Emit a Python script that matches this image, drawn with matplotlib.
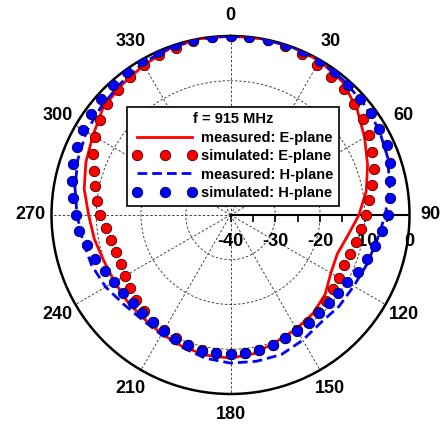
import numpy as np
import matplotlib
matplotlib.use('Agg')
import matplotlib.pyplot as plt

plt.rcParams['font.family'] = ['Liberation Sans', 'DejaVu Sans']
plt.rcParams['font.weight'] = 'bold'

# simulated patterns, every 6 degrees (dB)
sim_angles = list(range(0, 360, 6))
sim_e = [0, 0, -0.1, -0.3, -0.5, -1.3, -1.9, -2.1, -2.9, -3.5,
         -4.3, -5.3, -6.4, -7.7, -8.8, -9.8, -10.6, -11.3, -12.0, -12.3,
         -12.0, -11.7, -11.3, -10.8, -10.4, -10.2, -9.8, -9.5, -9.2, -8.9,
         -8.9, -8.9, -9.1, -9.5, -9.8, -10.2, -10.5, -11.0, -11.5, -12.2,
         -12.7, -13.1, -13.1, -12.6, -12.0, -10.8, -9.9, -9.0, -7.9, -6.3,
         -5.0, -4.0, -2.9, -2.5, -1.8, -1.2, -0.9, -0.7, -0.2, 0]
sim_h = [0, -0.1, 0, 0, 0, -0.2, -0.4, -0.8, -1.1, -1.3,
         -1.7, -1.8, -2.5, -3.5, -4.2, -4.9, -6.0, -7.0, -8.0, -8.9,
         -9.9, -10.3, -10.5, -10.6, -10.3, -10.1, -9.8, -9.4, -9.1, -8.9,
         -8.9, -8.9, -9.0, -9.4, -9.7, -10.1, -10.4, -10.6, -10.6, -10.4,
         -9.9, -9.2, -8.1, -7.3, -6.0, -5.4, -4.5, -3.7, -3.0, -2.5,
         -1.9, -1.6, -1.1, -0.9, -0.6, -0.3, -0.2, -0.1, 0, 0]

# measured patterns, every 10 degrees (dB)
meas_angles = list(range(0, 360, 10))
meas_e = [0, 0, 0, -0.2, -1.1, -3.1, -5.4, -7.4, -9.2, -11.3,
          -13.4, -14.6, -14.1, -12.4, -11.3, -10.6, -9.9, -8.6, -8.0, -8.2,
          -8.7, -9.3, -9.8, -9.9, -10.1, -9.9, -9.1, -8.3, -6.8, -5.6,
          -4.5, -2.8, -2.1, -1.3, -0.4, 0]
meas_h = [0, 0, 0, -0.2, -0.7, -1.2, -1.7, -2.6, -3.9, -5.4,
          -6.8, -7.6, -8.2, -8.3, -8.6, -7.7, -6.8, -6.8, -6.9, -7.5,
          -8.5, -9.1, -9.4, -8.9, -7.8, -7.0, -6.5, -5.7, -4.7, -3.7,
          -2.8, -2.3, -1.7, -0.8, -0.2, 0]

angle_labels = ['0', '30', '60', '90', '120', '150', '180', '210', '240', '270', '300', '330']
r_ticks = [-40, -30, -20, -10, 0]


def closed(angles, values):
    th = np.radians(list(angles) + [angles[0]])
    return th, list(values) + [values[0]]


def main():
    fig = plt.figure(figsize=(4.42, 4.29), dpi=100)
    ax = fig.add_axes([0.1165, 0.0816, 0.81, 0.8345], projection='polar')
    ax.set_theta_zero_location('N')
    ax.set_theta_direction(-1)
    ax.set_ylim(-40, 0)

    # grid
    ax.set_yticks([-30, -20, -10, 0])
    ax.set_yticklabels([])
    ax.set_thetagrids(np.arange(0, 360, 30), angle_labels, fontsize=13, fontweight='bold')
    ax.set_xticks(np.radians(np.arange(15, 360, 30)), minor=True)
    ax.grid(True, color='#444444', linestyle=(0, (2.5, 2)), linewidth=0.7)
    ax.tick_params(axis='x', which='both', direction='in', length=7, width=1.5, pad=8)
    ax.spines['polar'].set_linewidth(1.8)

    # radial axis along 90 degrees
    ax.plot([np.pi / 2, np.pi / 2], [-40, 0], color='k', lw=1.5, zorder=3)
    ax.plot([np.pi / 2] * 9, np.arange(-40, 1, 5), ls='none', marker=3,
            ms=5, mew=1.2, color='k', zorder=3)
    for r in r_ticks:
        ax.annotate(str(r), xy=(np.pi / 2, r), xytext=(0, -19), textcoords='offset points',
                    ha='center', va='center', fontsize=13, fontweight='bold')

    th, v = closed(meas_angles, meas_e)
    ax.plot(th, v, color='red', lw=2, label='measured: E-plane', zorder=4)
    ax.plot(np.radians(sim_angles), sim_e, ls='none', marker='o', ms=7.5, mfc='red',
            mec='#400000', mew=0.6, label='simulated: E-plane', zorder=5)
    th, v = closed(meas_angles, meas_h)
    ax.plot(th, v, color='blue', lw=2, ls=(0, (3.5, 1.8)), label='measured: H-plane', zorder=4)
    ax.plot(np.radians(sim_angles), sim_h, ls='none', marker='o', ms=7.5, mfc='blue',
            mec='#000040', mew=0.6, label='simulated: H-plane', zorder=6)

    leg = ax.legend(loc='center', bbox_to_anchor=(0.527, 0.636), bbox_transform=fig.transFigure,
                    numpoints=3, handlelength=4.4, fancybox=False, framealpha=1, edgecolor='k',
                    title='f = 915 MHz', prop={'size': 10.5, 'weight': 'bold'},
                    title_fontproperties={'size': 10.5, 'weight': 'bold'},
                    borderpad=0.4, labelspacing=0.3, handletextpad=0.3, borderaxespad=0)
    leg.get_frame().set_linewidth(1.2)
    leg.set_zorder(10)

    fig.savefig('out.png', dpi=100)


if __name__ == '__main__':
    main()
